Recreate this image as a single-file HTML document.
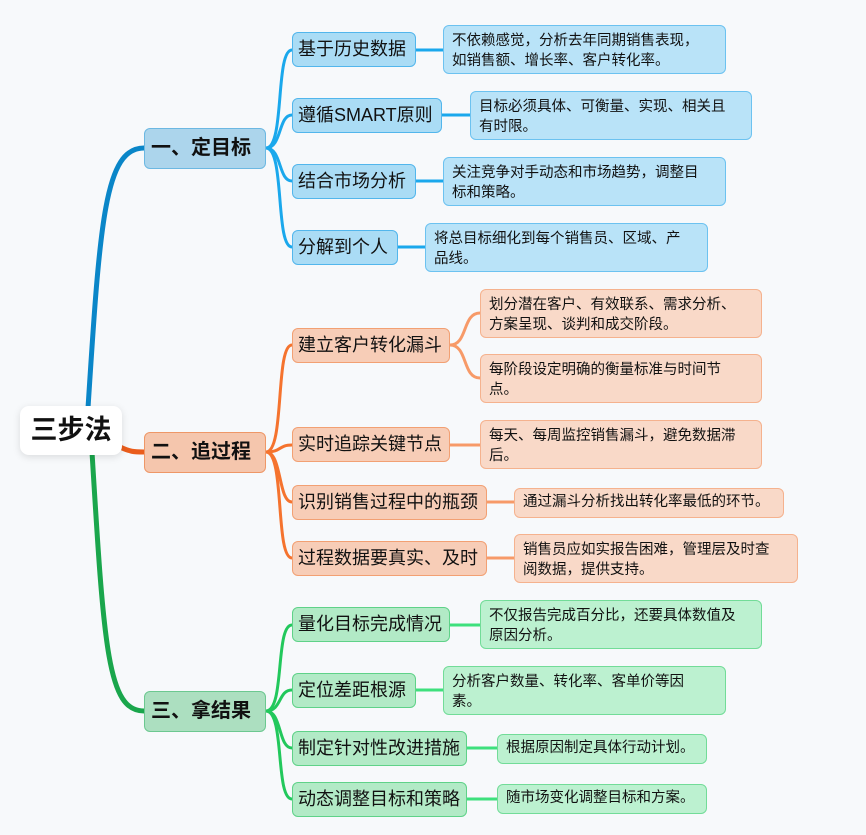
<!DOCTYPE html>
<html><head><meta charset="utf-8"><style>
body{margin:0;width:866px;height:835px;background:#f7f9fb;position:relative;overflow:hidden;font-family:"Liberation Sans","Noto Sans CJK SC",sans-serif;color:#111}
.b{position:absolute;box-sizing:border-box;border-radius:6px;border:1.5px solid;white-space:nowrap}
.l2{font-size:18px;line-height:32px;padding-left:5px}
.lf{font-size:14.5px;line-height:20px;padding:5px 0 0 8px}
.l1{font-size:20px;font-weight:bold;line-height:38px;padding-left:6px}
.bl1{background:#acd5ec;border-color:#6cb8e2}
.bl{background:#aadcf5;border-color:#52b6ec}
.bll{background:#b9e3f8;border-color:#6cc2f0}
.ol1{background:#f5c6ad;border-color:#ee9767}
.ol{background:#f7cdb7;border-color:#f2a073}
.oll{background:#f9d9c8;border-color:#f5b28e}
.gl1{background:#acdfc0;border-color:#6cc890}
.gl{background:#b2eac6;border-color:#5fd288}
.gll{background:#bcf1d0;border-color:#72dc98}
</style></head><body>
<svg width="866" height="835" style="position:absolute;left:0;top:0" fill="none">
<path d="M88 408 C100 220,105 148,144 148" stroke="#0a86c8" stroke-width="5"/>
<path d="M92 452 C104 650,108 711,144 711" stroke="#1aa64c" stroke-width="5"/>
<path d="M118 446 C130 452,134 452,144 452" stroke="#ea5d1c" stroke-width="5"/>
<g stroke="#1aa8ec" stroke-width="3">
<path d="M266 148 C285 148,275 50,292 50"/><path d="M266 148 C282 148,278 115,292 115"/>
<path d="M266 148 C282 148,278 181,292 181"/><path d="M266 148 C285 148,275 247,292 247"/>
<path d="M416 50H444"/><path d="M442 115H470"/><path d="M416 181H444"/><path d="M398 247H425"/>
</g>
<g stroke="#f5732e" stroke-width="3">
<path d="M266 452 C285 452,275 345,292 345"/><path d="M266 452 C282 452,278 445,292 445"/>
<path d="M266 452 C282 452,278 502,292 502"/><path d="M266 452 C285 452,275 558,292 558"/>
</g>
<g stroke="#f79a68" stroke-width="3">
<path d="M450 345 C468 345,462 313,480 313"/><path d="M450 345 C468 345,462 378,480 378"/>
<path d="M450 445H480"/><path d="M487 502H514"/><path d="M487 558H514"/>
</g>
<g stroke="#22c85c" stroke-width="3">
<path d="M266 711 C285 711,275 625,292 625"/><path d="M266 711 C282 711,278 690,292 690"/>
<path d="M266 711 C282 711,278 748,292 748"/><path d="M266 711 C285 711,275 799,292 799"/>
</g>
<g stroke="#3ee07c" stroke-width="3">
<path d="M450 625H480"/><path d="M416 690H444"/><path d="M467 748H497"/><path d="M467 799H497"/>
</g>
</svg>
<div style="position:absolute;left:20px;top:406px;width:102px;height:49px;background:#fff;border-radius:9px;box-shadow:0 2px 8px rgba(0,0,0,.12);font-size:27px;font-weight:bold;line-height:49px;text-align:center">三步法</div>

<div class="b l1 bl1" style="left:144px;top:128px;width:122px;height:41px">一、定目标</div>
<div class="b l2 bl" style="left:292px;top:32px;width:124px;height:35px">基于历史数据</div>
<div class="b l2 bl" style="left:292px;top:98px;width:150px;height:35px">遵循SMART原则</div>
<div class="b l2 bl" style="left:292px;top:164px;width:124px;height:35px">结合市场分析</div>
<div class="b l2 bl" style="left:292px;top:230px;width:106px;height:35px">分解到个人</div>
<div class="b lf bll" style="left:443px;top:25px;width:283px;height:49px">不依赖感觉，分析去年同期销售表现，<br>如销售额、增长率、客户转化率。</div>
<div class="b lf bll" style="left:470px;top:91px;width:282px;height:49px">目标必须具体、可衡量、实现、相关且<br>有时限。</div>
<div class="b lf bll" style="left:443px;top:157px;width:283px;height:49px">关注竞争对手动态和市场趋势，调整目<br>标和策略。</div>
<div class="b lf bll" style="left:425px;top:223px;width:283px;height:49px">将总目标细化到每个销售员、区域、产<br>品线。</div>

<div class="b l1 ol1" style="left:144px;top:432px;width:122px;height:41px">二、追过程</div>
<div class="b l2 ol" style="left:292px;top:328px;width:158px;height:35px">建立客户转化漏斗</div>
<div class="b l2 ol" style="left:292px;top:427px;width:158px;height:35px">实时追踪关键节点</div>
<div class="b l2 ol" style="left:292px;top:485px;width:195px;height:35px">识别销售过程中的瓶颈</div>
<div class="b l2 ol" style="left:292px;top:541px;width:195px;height:35px">过程数据要真实、及时</div>
<div class="b lf oll" style="left:480px;top:289px;width:282px;height:49px">划分潜在客户、有效联系、需求分析、<br>方案呈现、谈判和成交阶段。</div>
<div class="b lf oll" style="left:480px;top:354px;width:282px;height:49px">每阶段设定明确的衡量标准与时间节<br>点。</div>
<div class="b lf oll" style="left:480px;top:420px;width:282px;height:49px">每天、每周监控销售漏斗，避免数据滞<br>后。</div>
<div class="b lf oll" style="left:514px;top:488px;width:270px;height:30px;padding-top:3px">通过漏斗分析找出转化率最低的环节。</div>
<div class="b lf oll" style="left:514px;top:534px;width:284px;height:49px">销售员应如实报告困难，管理层及时查<br>阅数据，提供支持。</div>

<div class="b l1 gl1" style="left:144px;top:691px;width:122px;height:41px">三、拿结果</div>
<div class="b l2 gl" style="left:292px;top:607px;width:158px;height:35px">量化目标完成情况</div>
<div class="b l2 gl" style="left:292px;top:673px;width:124px;height:35px">定位差距根源</div>
<div class="b l2 gl" style="left:292px;top:731px;width:175px;height:35px">制定针对性改进措施</div>
<div class="b l2 gl" style="left:292px;top:782px;width:175px;height:35px">动态调整目标和策略</div>
<div class="b lf gll" style="left:480px;top:600px;width:282px;height:49px">不仅报告完成百分比，还要具体数值及<br>原因分析。</div>
<div class="b lf gll" style="left:443px;top:666px;width:283px;height:49px">分析客户数量、转化率、客单价等因<br>素。</div>
<div class="b lf gll" style="left:497px;top:734px;width:210px;height:30px;padding-top:3px">根据原因制定具体行动计划。</div>
<div class="b lf gll" style="left:497px;top:784px;width:210px;height:30px;padding-top:3px">随市场变化调整目标和方案。</div>
</body></html>
